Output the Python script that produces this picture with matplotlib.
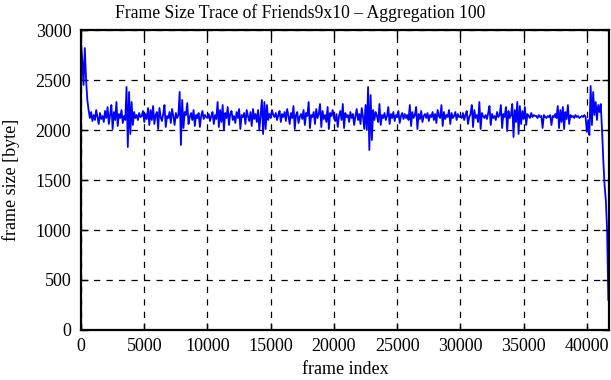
import matplotlib
matplotlib.use('Agg')
import matplotlib.pyplot as plt
import numpy as np

###############################################################################
# Data (frame size, aggregated over 100 frames)
###############################################################################

frame_step = 100

sizes = [
    2880, 2700, 2450, 2820, 2500, 2300, 2200, 2120, 2180, 2090, 2150, 2100, 2200, 2130, 2060, 2170, 2110, 2140, 2080, 2190,
    2120, 2230, 2060, 2150, 2250, 2010, 2180, 2100, 2280, 2040, 2160, 2120, 2200, 2070, 2140, 2100, 2430, 1830, 2380, 1960,
    2280, 2050, 2180, 2120, 2150, 2100, 2170, 2130, 2140, 2190, 2080, 2160, 2110, 2220, 2050, 2200, 2100, 2240, 2060, 2150,
    2180, 2010, 2220, 2130, 2090, 2160, 2250, 2030, 2140, 2120, 2180, 2070, 2210, 2140, 2050, 2170, 2120, 2150, 2380, 1850,
    2300, 2020, 2180, 2150, 2270, 2060, 2130, 2170, 2100, 2200, 2040, 2150, 2120, 2170, 2030, 2140, 2190, 2110, 2150, 2130,
    2120, 2160, 2090, 2140, 2180, 2060, 2150, 2110, 2280, 2030, 2200, 2080, 2250, 2000, 2170, 2120, 2230, 2050, 2160, 2190,
    2100, 2140, 2070, 2180, 2120, 2210, 2010, 2150, 2130, 2170, 2060, 2200, 2140, 2090, 2180, 2040, 2210, 2110, 2160, 2080,
    2200, 2000, 2150, 2300, 1960, 2280, 2010, 2250, 2100, 2160, 2120, 2200, 2150, 2130, 2170, 2100, 2150, 2190, 2080, 2160,
    2130, 2180, 2090, 2210, 2140, 2060, 2170, 2120, 2240, 2010, 2150, 2180, 2070, 2130, 2160, 2110, 2200, 2050, 2170, 2140,
    2280, 2020, 2150, 2130, 2180, 2060, 2210, 2120, 2160, 2260, 2030, 2190, 2110, 2150, 2080, 2230, 2010, 2170, 2140, 2200,
    2120, 2090, 2160, 2030, 2140, 2190, 2100, 2260, 2020, 2170, 2130, 2150, 2080, 2180, 2120, 2160, 2050, 2140, 2210, 2100,
    2160, 2060, 2220, 2130, 2010, 2250, 2000, 2430, 1800, 2350, 1900, 2200, 2100, 2180, 2140, 2080, 2260, 2050, 2150, 2120,
    2170, 2100, 2140, 2230, 2060, 2160, 2120, 2180, 2090, 2150, 2130, 2190, 2070, 2140, 2170, 2110, 2160, 2120, 2150, 2100,
    2250, 2040, 2180, 2120, 2150, 2230, 2010, 2160, 2110, 2190, 2080, 2140, 2160, 2120, 2170, 2090, 2150, 2130, 2180, 2100,
    2160, 2070, 2200, 2140, 2120, 2250, 2040, 2180, 2110, 2150, 2130, 2200, 2060, 2170, 2120, 2140, 2180, 2100, 2160, 2130,
    2140, 2120, 2170, 2100, 2150, 2190, 2060, 2130, 2160, 2250, 2030, 2200, 2120, 2150, 2080, 2280, 2010, 2170, 2140, 2120,
    2150, 2110, 2170, 2240, 2050, 2160, 2120, 2140, 2100, 2180, 2130, 2150, 2250, 2020, 2160, 2130, 2230, 1990, 2190, 2120,
    2150, 2260, 1930, 2200, 2080, 2280, 1960, 2240, 2060, 2190, 2110, 2230, 2050, 2160, 2140, 2120, 2170, 2130, 2150, 2140,
    2140, 2120, 2150, 2130, 2140, 2020, 2150, 2130, 2120, 2140, 2130, 2150, 2050, 2140, 2130, 2160, 2120, 2240, 2020, 2200,
    2080, 2230, 2010, 2180, 2110, 2250, 2060, 2150, 2130, 2140, 2120, 2150, 2130, 2140, 2120, 2130, 2140, 2130, 2150, 2130,
    1980, 2100, 1950, 2440, 2050, 2380, 2150, 2280, 2100, 2250, 2180, 2260, 2000, 1700, 1450, 1300, 1000, 300,
]

frame_index = np.arange(len(sizes)) * frame_step

x_ticks = [0, 5000, 10000, 15000, 20000, 25000, 30000, 35000, 40000]
y_ticks = [0, 500, 1000, 1500, 2000, 2500, 3000]

###############################################################################
# Plot
###############################################################################

plt.rcParams['font.family'] = ['Liberation Serif', 'DejaVu Serif']

fig = plt.figure(figsize=(6.11, 3.80), dpi=100)
ax = fig.add_axes([0.1326, 0.1316, 0.8641, 0.7894])

ax.plot(frame_index, sizes, color='#0000ff', linewidth=1.3)

ax.set_xlim(0, 41750)
ax.set_ylim(0, 3000)
ax.set_xticks(x_ticks)
ax.set_yticks(y_ticks)

ax.grid(True, linestyle=(0, (5, 5)), color='black', linewidth=0.9)
ax.tick_params(direction='in', top=True, right=True, length=5, width=1,
               labelsize=13)
ax.tick_params(axis='x', pad=6)
ax.tick_params(axis='y', pad=7)
for s in ax.spines.values():
    s.set_linewidth(1.6)

# gnuplot centres the title on the whole canvas, not on the plot area
ax.set_title('Frame Size Trace of Friends9x10 \u2013 Aggregation 100',
             fontsize=12.7, x=0.415, pad=9)
ax.set_xlabel('frame index', fontsize=13)
ax.set_ylabel('frame size [byte]', fontsize=13)
ax.xaxis.set_label_coords(0.5, -0.103)
ax.yaxis.set_label_coords(-0.1155, 0.5)

fig.savefig('out.png', dpi=100)
